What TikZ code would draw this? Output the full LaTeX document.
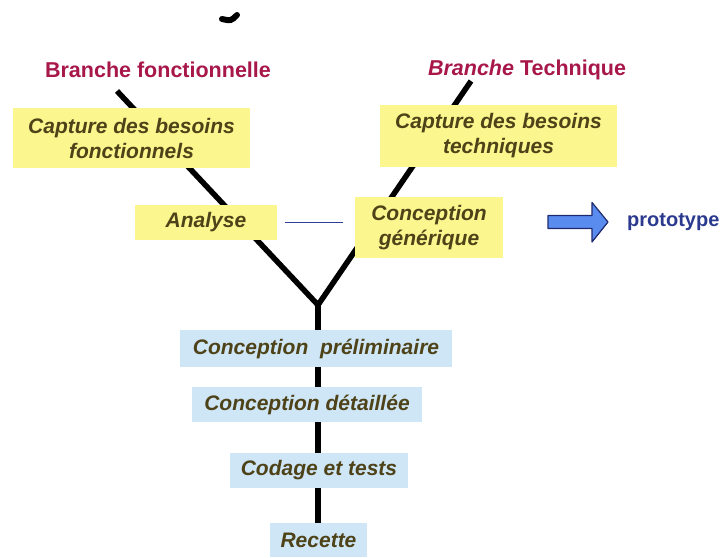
\documentclass[tikz,border=0pt]{standalone}
\usepackage{fontspec}
\setmainfont{Liberation Sans}
\usetikzlibrary{calc}
\definecolor{branchred}{HTML}{A8174A}
\definecolor{boxtext}{HTML}{4E4318}
\definecolor{yellowfill}{HTML}{FBF68E}
\definecolor{bluefill}{HTML}{CFE6F7}
\definecolor{protoblue}{HTML}{2B3A8F}
\definecolor{arrowfill}{HTML}{5A8CF0}
\definecolor{arrowline}{HTML}{1F2A6E}
\definecolor{linkblue}{HTML}{2E3C9A}
\tikzset{
  branchtitle/.style={font=\bfseries\fontsize{21.5}{25}\selectfont, text=branchred, inner sep=0pt},
  boxbase/.style={inner sep=0pt, align=center, font=\bfseries\itshape\fontsize{21}{25}\selectfont, text=boxtext},
  yellowbox/.style={boxbase, fill=yellowfill},
  bluebox/.style={boxbase, fill=bluefill},
  trunk/.style={line width=5.5pt, black},
}
\begin{document}
\begin{tikzpicture}[x=1pt,y=-1pt]
\useasboundingbox (0,0) rectangle (723,557);
% cropped title remnant
\draw[line width=6pt, line cap=round] (222,19) .. controls (231,21) .. (237,15);
% titles
\node[branchtitle] (tf) at (158,70) {Branche fonctionnelle};
\node[branchtitle] (tt) at (527,70) {\itshape Branche\upshape{} Technique};
% tree
\coordinate (ftop) at (117,91);
\coordinate (ttop) at (471,81);
\coordinate (junc) at (318,305);
\coordinate (bot) at (318,555);
\draw[trunk] (ftop) -- (junc) -- (ttop);
\draw[trunk] (junc) -- (bot);
% yellow boxes
\node[yellowbox, minimum width=237pt, minimum height=60pt] (capf) at (131.5,138) {Capture des besoins\\fonctionnels};
\node[yellowbox, minimum width=142pt, minimum height=35pt] (ana) at (206,222.5) {Analyse};
\node[yellowbox, minimum width=237pt, minimum height=62pt] (capt) at (498.5,136) {Capture des besoins\\techniques};
\node[yellowbox, minimum width=148pt, minimum height=61pt] (cg) at (429,227.5) {Conception\\ générique};
% link
\draw[linkblue, line width=1pt, shorten <=8pt, shorten >=12pt] (ana.east) -- (ana.east -| cg.west);
% blue boxes
\node[bluebox, minimum width=272pt, minimum height=37pt] (cp) at (316,348.5) {Conception\ \ préliminaire};
\node[bluebox, minimum width=230pt, minimum height=35pt] (cd) at (307,404.5) {Conception détaillée};
\node[bluebox, minimum width=178pt, minimum height=35pt] (ct) at (319,470.5) {Codage et tests};
\node[bluebox, minimum width=97pt, minimum height=34pt] (rec) at (318.5,540) {Recette};
% prototype arrow
\coordinate (ar) at (548,222);
\draw[fill=arrowfill, draw=arrowline, line width=1.2pt, line join=round]
  ($(ar)+(0,-6.5)$) -- ++(44,0) -- ++(0,-13) -- ++(16,19.5) -- ++(-16,20) -- ++(0,-13.5) -- ++(-44,0) -- cycle;
\node[font=\bfseries\fontsize{20}{24}\selectfont, text=protoblue, inner sep=0pt, anchor=west] (proto) at (627,222) {prototype};
\end{tikzpicture}
\end{document}
